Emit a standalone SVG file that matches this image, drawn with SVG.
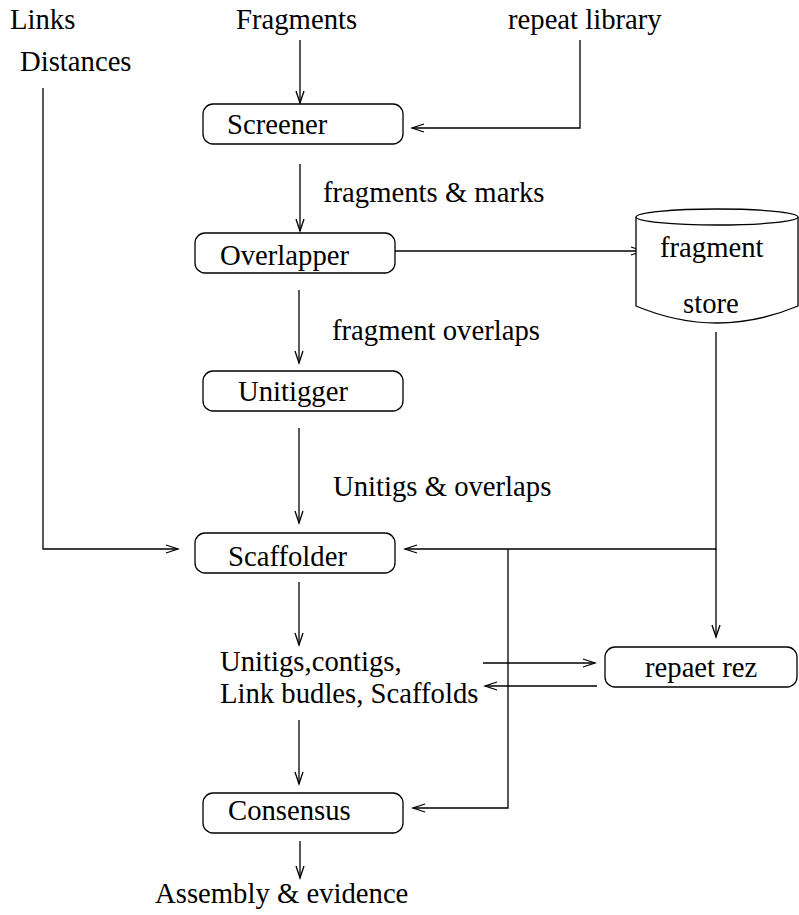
<svg xmlns="http://www.w3.org/2000/svg" width="799" height="915" viewBox="0 0 799 915">
  <style>
    .t { font-family: "Liberation Serif", "Times New Roman", serif; font-size: 28.7px; fill: #000; }
    .box { fill: #fff; stroke: #000; stroke-width: 1.3; }
    .ln { fill: none; stroke: #000; stroke-width: 1.3; }
  </style>
  <defs>
    <marker id="arr" markerUnits="userSpaceOnUse" viewBox="-14 -6 16 12" refX="0" refY="0" markerWidth="16" markerHeight="12" orient="auto">
      <path d="M-12,-4 L0,0 L-12,4" fill="none" stroke="#000" stroke-width="1.3"/>
    </marker>
  </defs>
  <rect width="799" height="915" fill="#fff"/>

  <!-- inputs -->
  <g id="inputs">
    <text class="t" x="10" y="29">Links</text>
    <text class="t" x="20" y="71">Distances</text>
    <text class="t" x="236" y="29">Fragments</text>
    <text class="t" x="508" y="29">repeat library</text>
  </g>

  <!-- connectors -->
  <g id="connectors">
    <line class="ln" x1="300" y1="40" x2="300" y2="103" marker-end="url(#arr)"/>
    <polyline class="ln" points="580,40 580,128 412,128" marker-end="url(#arr)"/>
    <line class="ln" x1="300" y1="164" x2="300" y2="231" marker-end="url(#arr)"/>
    <line class="ln" x1="395" y1="251" x2="643" y2="251" marker-end="url(#arr)"/>
    <line class="ln" x1="299" y1="290" x2="299" y2="363" marker-end="url(#arr)"/>
    <line class="ln" x1="299" y1="428" x2="299" y2="523" marker-end="url(#arr)"/>
    <polyline class="ln" points="43,88 43,549 178,549" marker-end="url(#arr)"/>
    <polyline class="ln" points="716,332 716,549 405,549" marker-end="url(#arr)"/>
    <line class="ln" x1="716" y1="549" x2="716" y2="637" marker-end="url(#arr)"/>
    <polyline class="ln" points="508,549 508,808 413,808" marker-end="url(#arr)"/>
    <line class="ln" x1="299" y1="582" x2="299" y2="645" marker-end="url(#arr)"/>
    <line class="ln" x1="483" y1="663" x2="595" y2="663" marker-end="url(#arr)"/>
    <line class="ln" x1="597" y1="686" x2="485" y2="686" marker-end="url(#arr)"/>
    <line class="ln" x1="299" y1="720" x2="299" y2="784" marker-end="url(#arr)"/>
    <line class="ln" x1="300" y1="841" x2="300" y2="878" marker-end="url(#arr)"/>
  </g>

  <!-- edge labels -->
  <g id="labels">
    <text class="t" x="323" y="202">fragments &amp; marks</text>
    <text class="t" x="332" y="340">fragment overlaps</text>
    <text class="t" x="333" y="496">Unitigs &amp; overlaps</text>
  </g>

  <g id="screener">
    <rect class="box" x="203" y="104" width="200" height="40" rx="10"/>
    <text class="t" x="227" y="134">Screener</text>
  </g>
  <g id="overlapper">
    <rect class="box" x="195" y="233" width="200" height="40" rx="10"/>
    <text class="t" x="220" y="265">Overlapper</text>
  </g>
  <g id="fragment-store">
    <path class="box" d="M636,217 L636,306 Q717,340 798,306 L798,217"/>
    <ellipse class="box" cx="717" cy="217" rx="81" ry="8"/>
    <text class="t" x="660" y="257">fragment</text>
    <text class="t" x="683" y="313">store</text>
  </g>
  <g id="unitigger">
    <rect class="box" x="203" y="371" width="200" height="40" rx="10"/>
    <text class="t" x="238" y="401">Unitigger</text>
  </g>
  <g id="scaffolder">
    <rect class="box" x="195" y="533" width="200" height="40" rx="10"/>
    <text class="t" x="228" y="566">Scaffolder</text>
  </g>
  <g id="outputs">
    <text class="t" x="220" y="671">Unitigs,contigs,</text>
    <text class="t" x="220" y="703">Link budles, Scaffolds</text>
  </g>
  <g id="repeat-rez">
    <rect class="box" x="605" y="647" width="192" height="40" rx="10"/>
    <text class="t" x="645" y="677">repaet rez</text>
  </g>
  <g id="consensus">
    <rect class="box" x="203" y="793" width="200" height="40" rx="10"/>
    <text class="t" x="228" y="820">Consensus</text>
  </g>
  <g id="result">
    <text class="t" x="155" y="903">Assembly &amp; evidence</text>
  </g>
</svg>
